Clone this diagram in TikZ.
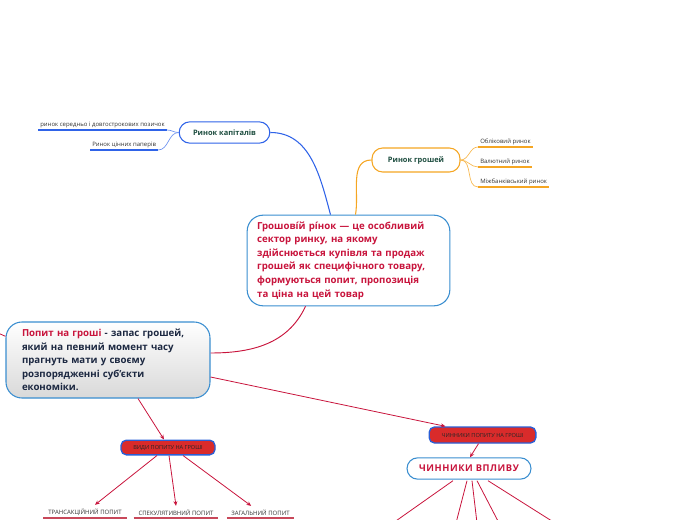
\documentclass[tikz,border=0pt]{standalone}
\usepackage{fontspec}
\setmainfont{Open Sans}
\usetikzlibrary{positioning,arrows.meta,calc}

\definecolor{crimson}{HTML}{C8143C}
\definecolor{nodeblue}{HTML}{3A8ED0}
\definecolor{capblue}{HTML}{2F63E8}
\definecolor{moneyorange}{HTML}{F5A623}
\definecolor{darkgreen}{HTML}{1D4D3F}
\definecolor{navy}{HTML}{1C2841}
\definecolor{tagred}{HTML}{D92B2B}
\definecolor{tagblue}{HTML}{2A5FD6}
\definecolor{leafline}{HTML}{C8485A}

\begin{document}
\begin{tikzpicture}[x=0.75pt,y=-0.75pt,
      central/.style={rectangle,draw=nodeblue,line width=0.8pt,rounded corners=12pt,fill=white,align=left,font=\bfseries\fontsize{7.25}{10.2}\selectfont},
      branch/.style={rectangle,draw,line width=0.8pt,rounded corners=8pt,fill=white,text=darkgreen,font=\bfseries\fontsize{5.6}{7}\selectfont},
      tag/.style={rectangle,draw=tagblue,line width=1pt,fill=tagred,rounded corners=4pt,text=black!85,font=\fontsize{4.2}{5}\selectfont},
      leaf/.style={inner sep=1.5pt,text=black!80,font=\fontsize{4.5}{5}\selectfont},
      link/.style={draw=crimson,line width=0.6pt},
      arrow/.style={link,-{Stealth[length=3.5pt,width=3pt]}}
      ]

      \useasboundingbox (0,0) rectangle (696,520);

      % main topic
      \node[central,text=crimson,text width=137pt,inner xsep=7.5pt,minimum height=68pt] (market) at (348.5,260.5) {
        Грошовíй рíнок — це особливий\\
        сектор ринку, на якому\\
        здійснюється купівля та продаж\\
        грошей як специфічного товару,\\
        формуються попит, пропозиція\\
        та ціна на цей товар
      };

      \node[central,text=navy,text width=129pt,inner xsep=12pt,minimum height=57pt,top color=white,bottom color=gray!30] (demand) at (108,360) {
        \textcolor{crimson}{Попит на гроші} - запас грошей,\\
        який на певний момент часу\\
        прагнуть мати у своєму\\
        розпорядженні суб'єкти\\
        економіки.
      };

      % branches
      \node[branch,draw=capblue,minimum width=68pt,minimum height=16pt] (capital) at (224.5,132.5) {Ринок капіталів};
      \node[branch,draw=moneyorange,minimum width=66pt,minimum height=18pt] (money) at (416,160) {Ринок грошей};

      \node[leaf,anchor=south west] (loans) at (38,130) {ринок середньо і довгострокових позичок};
      \node[leaf,anchor=south west] (shares) at (90,150) {Ринок цінних паперів};

      \node[leaf,anchor=south west,minimum width=37.5pt] (discount) at (478,147) {Обліковий ринок};
      \node[leaf,anchor=south west,minimum width=37.5pt] (currency) at (478,167) {Валютний ринок};
      \node[leaf,anchor=south west,minimum width=50pt] (interbank) at (478,187) {Міжбанківський ринок};

      \foreach \n in {loans,shares}
        \draw[capblue,line width=1.3pt] (\n.south west) -- (\n.south east);
      \foreach \n in {discount,currency,interbank}
        \draw[moneyorange,line width=1.3pt] (\n.south west) -- (\n.south east);

      \draw[capblue!70,line width=0.5pt] (loans.south east) to[out=0,in=180] (capital.west);
      \draw[capblue!70,line width=0.5pt] (shares.south east) to[out=0,in=180] (capital.west);
      \foreach \n in {discount,currency,interbank}
        \draw[moneyorange!80,line width=0.5pt] (money.east) to[out=0,in=180] (\n.south west);

      \draw[capblue,line width=0.8pt] (capital.east) to[out=0,in=105] ($(market.north)+(-18,0)$);
      \draw[moneyorange,line width=0.8pt] (money.west) to[out=180,in=80] ($(market.north)+(7,0)$);
      \draw[link,line width=0.7pt] ($(market.south)+(-43,0)$) to[out=-115,in=0] ($(demand.east)+(0,-7)$);
      \coordinate (offleft) at (-2,333);
      \draw[link] (offleft) -- (demand.167);

      % kinds of demand
      \node[tag,minimum width=70.5pt,minimum height=11pt] (kinds) at (168,447.5) {ВИДИ ПОПИТУ НА ГРОШІ};
      \draw[arrow] ($(demand.south)+(30,0)$) -- ($(kinds.north)+(-4,0)$);

      \node[leaf,anchor=south,minimum width=62pt] (transact) at (85,518) {ТРАНСАКЦІЙНИЙ ПОПИТ};
      \node[leaf,anchor=south,minimum width=63pt] (specul) at (176,518) {СПЕКУЛЯТИВНИЙ ПОПИТ};
      \node[leaf,anchor=south,minimum width=50pt] (total) at (260.5,518) {ЗАГАЛЬНИЙ ПОПИТ};
      \foreach \n in {transact,specul,total}
        \draw[leafline,line width=1.3pt] (\n.south west) -- (\n.south east);

      \draw[arrow] ($(kinds.south)+(-11,0)$) -- ([xshift=7.5pt,yshift=1.5pt]transact.north);
      \draw[arrow] ($(kinds.south)+(1,0)$) -- ([yshift=1.5pt]specul.north);
      \draw[arrow] ($(kinds.south)+(15,0)$) -- ([xshift=-7pt,yshift=1.5pt]total.north);

      % factors
      \node[tag,minimum width=80pt,minimum height=12pt] (factors) at (482.5,435) {ЧИННИКИ ПОПИТУ НА ГРОШІ};
      \draw[arrow] ($(demand.east)+(0,17)$) -- ($(factors.north)+(-37,0)$);

      \node[central,text=crimson,align=center,rounded corners=8pt,minimum width=93pt,minimum height=16pt,inner sep=0pt,font=\bfseries\fontsize{7}{8}\selectfont\addfontfeatures{LetterSpace=6}] (impact) at (469,468.5) {ЧИННИКИ ВПЛИВУ};
      \draw[arrow] ($(factors.south)+(-4,0)$) -- ($(impact.north)+(1,0)$);

      \foreach \s/\e [count=\i] in {-16/393,-2/456,3/477,8/499,19/555} {
        \coordinate (f\i) at (\e,523);
        \draw[link] ($(impact.south)+(\s,1)$) -- (f\i);
      }

    \end{tikzpicture}
\end{document}
